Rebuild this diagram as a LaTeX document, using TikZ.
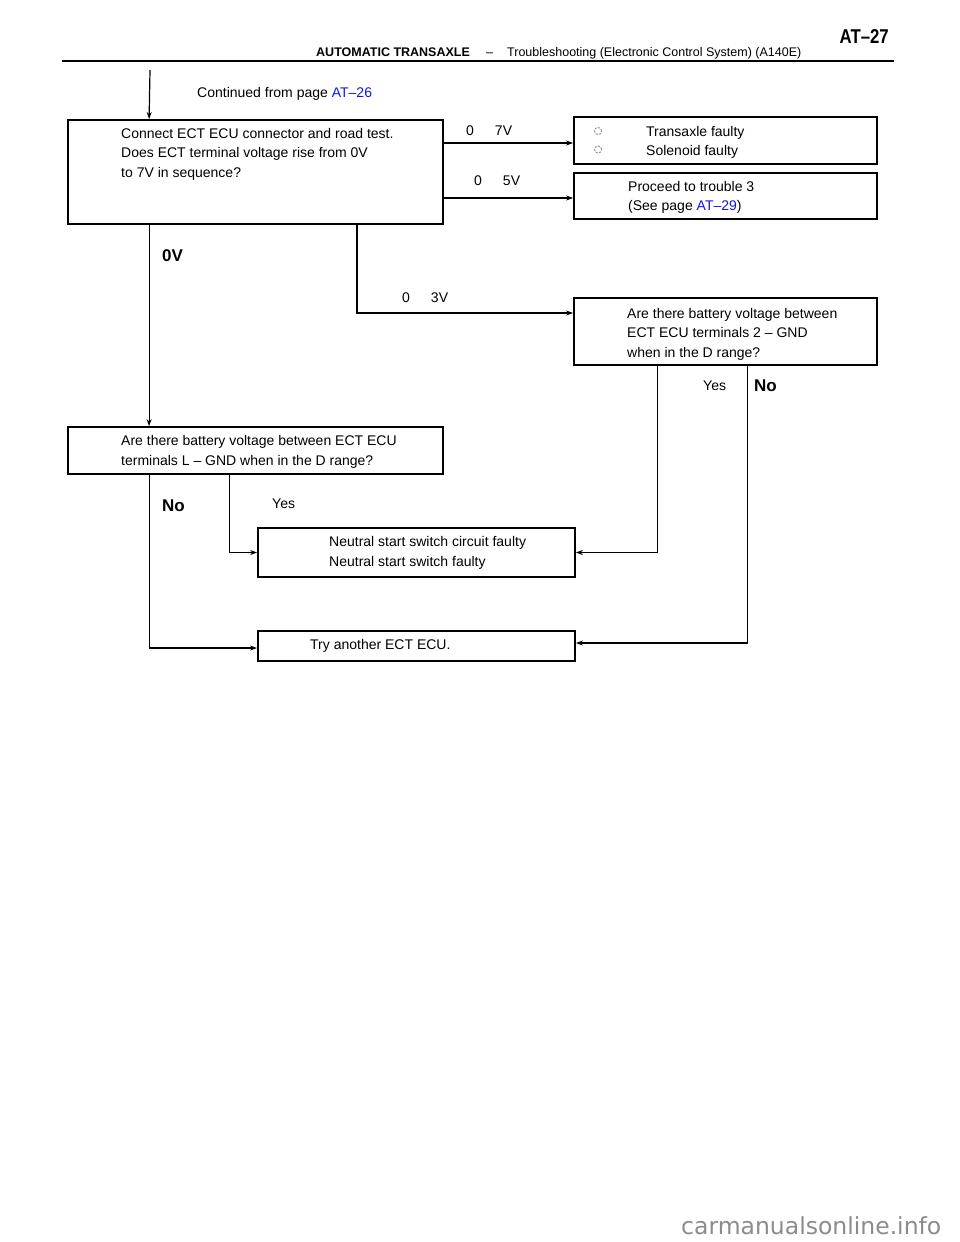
\documentclass[tikz,border=0pt]{standalone}
\usepackage{fontspec}
\setmainfont{Liberation Sans}
\newfontfamily\condfont[FakeStretch=0.84]{Liberation Sans}
\newfontfamily\wmfont{DejaVu Sans}
\usetikzlibrary{arrows.meta}
\definecolor{linkblue}{RGB}{20,20,235}
\definecolor{wmgray}{RGB}{140,140,140}
\begin{document}
\begin{tikzpicture}[x=1pt,y=-1pt,
  box/.style={draw=black,line width=1.8pt,inner sep=0pt},
  conn/.style={line width=1.2pt,-{Stealth[length=7pt,width=5pt]}},
  txt/.style={anchor=base west,inner sep=0pt,font=\fontsize{14}{20}\selectfont},
  blbl/.style={anchor=base west,inner sep=0pt,font=\fontsize{17}{20}\selectfont\bfseries},
  bullet/.style={draw=gray!80,line width=1pt,dash pattern=on 2.2pt off 1.3pt}]
\useasboundingbox (0,0) rectangle (960,1242);
\fill[white] (0,0) rectangle (960,1242);
% header
\node[anchor=base east,inner sep=0pt,font=\fontsize{20}{22}\selectfont\bfseries\condfont] (pg) at (889,43) {AT\textendash 27};
\node[anchor=base west,inner sep=0pt,font=\fontsize{12.5}{15}\selectfont\bfseries] (h1) at (316,56) {AUTOMATIC TRANSAXLE};
\node[anchor=base west,inner sep=0pt,font=\fontsize{12.5}{15}\selectfont] (h2) at (486,56) {\textendash};
\node[anchor=base west,inner sep=0pt,font=\fontsize{12.5}{15}\selectfont] (h3) at (507,56) {Troubleshooting (Electronic Control System) (A140E)};
\coordinate (rl) at (62,60.5);
\coordinate (rr) at (894,60.5);
\draw[line width=2pt] (rl) -- (rr);
% boxes
\node[box,minimum width=375pt,minimum height=104pt] (main) at (255.5,172) {};
\node[box,minimum width=303pt,minimum height=47pt] (tx) at (725.5,140.5) {};
\node[box,minimum width=303pt,minimum height=46pt] (pr) at (725.5,196) {};
\node[box,minimum width=303pt,minimum height=67pt] (b2) at (725.5,331.5) {};
\node[box,minimum width=375pt,minimum height=47pt] (bl) at (255.5,450.5) {};
\node[box,minimum width=317pt,minimum height=49pt] (ne) at (416.5,552.5) {};
\node[box,minimum width=317pt,minimum height=30pt] (tr) at (416.5,646) {};
% texts
\node[txt] (tcont) at (197,97) {Continued from page \textcolor{linkblue}{AT\textendash 26}};
\node[txt] (tm1) at (121,138) {Connect ECT ECU connector and road test.};
\node[txt] (tm2) at (121,157.7) {Does ECT terminal voltage rise from 0V};
\node[txt] (tm3) at (121,177.4) {to 7V in sequence?};
\draw[bullet] (598,131) circle[radius=3.6pt];
\draw[bullet] (598,149.5) circle[radius=3.6pt];
\node[txt] (ttx1) at (646,136) {Transaxle faulty};
\node[txt] (ttx2) at (646,155) {Solenoid faulty};
\node[txt] (tpr1) at (628,191) {Proceed to trouble 3};
\node[txt] (tpr2) at (628,210.5) {(See page \textcolor{linkblue}{AT\textendash 29})};
\node[txt] (tb21) at (627,318) {Are there battery voltage between};
\node[txt] (tb22) at (627,337.5) {ECT ECU terminals 2 \textendash\ GND};
\node[txt] (tb23) at (627,357) {when in the D range?};
\node[txt] (tbl1) at (121,445) {Are there battery voltage between ECT ECU};
\node[txt] (tbl2) at (121,465) {terminals L \textendash\ GND when in the D range?};
\node[txt] (tne1) at (329,546) {Neutral start switch circuit faulty};
\node[txt] (tne2) at (329,566) {Neutral start switch faulty};
\node[txt] (ttr) at (310,649) {Try another ECT ECU.};
% connectors
\coordinate (top) at (150,70);
\draw[conn] (top) -- ([xshift=82pt]main.north west);
\draw[conn] (main.east |- 0,143) -- (tx.west |- 0,143);
\node[txt] (l7) at (466,135) {0\hspace{1.5em}7V};
\draw[conn] (main.east |- 0,198) -- (pr.west |- 0,198);
\node[txt] (l5) at (474,185) {0\hspace{1.5em}5V};
\draw[conn] ([xshift=101.5pt]main.south) |- ([yshift=18.5pt]b2.west);
\node[txt] (l3) at (402,302) {0\hspace{1.5em}3V};
\draw[conn] ([xshift=82pt]main.south west) -- ([xshift=82pt]bl.north west);
\node[blbl] (l0) at (162,261) {0V};
\draw[conn] ([xshift=84pt]b2.south west) |- (ne.east);
\node[txt] (ly2) at (703,390) {Yes};
\draw[conn] ([xshift=174pt]b2.south west) |- ([yshift=3pt]tr.east);
\node[blbl] (ln2) at (754,391) {No};
\draw[conn] ([xshift=162pt]bl.south west) |- (ne.west);
\node[txt] (ly1) at (272,508) {Yes};
\draw[conn] ([xshift=82pt]bl.south west) |- ([yshift=-2pt]tr.west);
\node[blbl] (ln1) at (162,511) {No};
% watermark
\node[anchor=base west,inner sep=0pt,text=wmgray,font=\fontsize{23.5}{26}\selectfont\wmfont] (wm) at (681,1234) {carmanualsonline.info};
\end{tikzpicture}
\end{document}
